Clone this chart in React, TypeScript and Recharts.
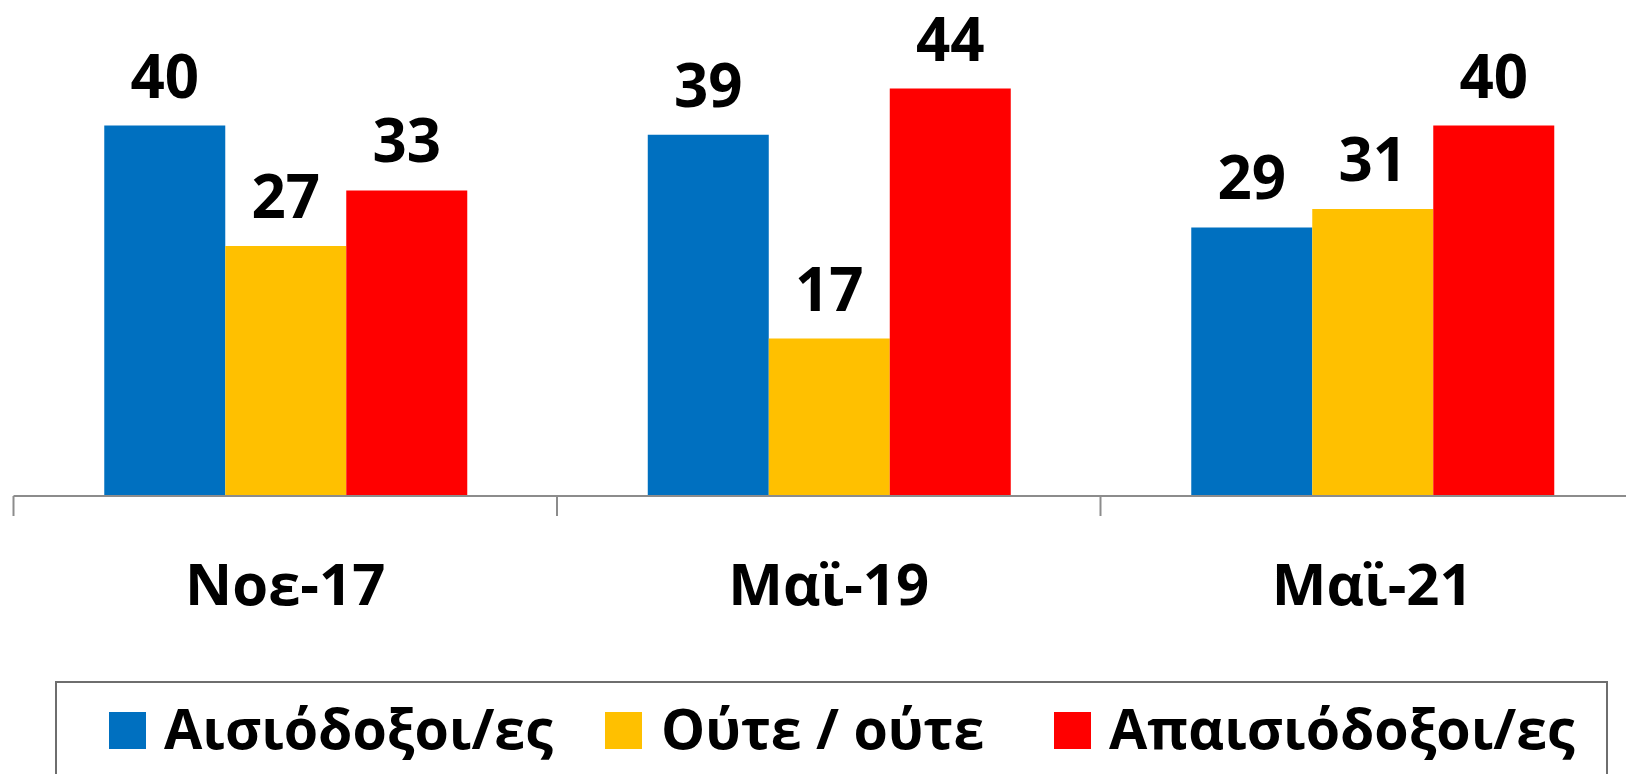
import React from 'react';
import { BarChart, Bar, XAxis, YAxis, LabelList, Legend } from 'recharts';

const categories = ['Νοε-17', 'Μαϊ-19', 'Μαϊ-21'];
const optimists = [40, 39, 29];
const neither = [27, 17, 31];
const pessimists = [33, 44, 40];
const seriesKeys = ['optimists', 'neither', 'pessimists'];
const seriesNames = ['Αισιόδοξοι/ες', 'Ούτε / ούτε', 'Απαισιόδοξοι/ες'];
const seriesColors = ['#0070C0', '#FFC000', '#FF0000'];

const data = categories.map((name, i) => ({
  name,
  optimists: optimists[i],
  neither: neither[i],
  pessimists: pessimists[i],
}));

const FONT = '"Open Sans", "Noto Sans", sans-serif';
const CHART_W = 1660;
const CHART_H = 774;
const MARGIN = { top: 33, right: 16, left: 13.5, bottom: 158 };
const PLOT_W = CHART_W - MARGIN.left - MARGIN.right;
const BAND = PLOT_W / categories.length;

const CategoryTick = (props: any) => {
  const { x, y, payload } = props;
  return (
    <g>
      <line x1={x - BAND / 2} y1={y} x2={x - BAND / 2} y2={y + 20} stroke="#8c8c8c" strokeWidth={2} />
      <text
        x={x}
        y={y + 109}
        textAnchor="middle"
        fontFamily={FONT}
        fontSize={58}
        fontWeight="bold"
        fill="#000"
      >
        {payload.value}
      </text>
    </g>
  );
};

const legendSquareX = [54, 550, 999];
const legendTextX = [109, 606, 1054];

const LegendContent = () => (
  <svg width={1560} height={100} style={{ display: 'block' }}>
    <rect x={1} y={1} width={1551} height={200} fill="#fff" stroke="#6e6e6e" strokeWidth={2} />
    {seriesNames.map((n, i) => (
      <g key={n}>
        <rect x={legendSquareX[i]} y={31} width={37} height={37} fill={seriesColors[i]} />
        <text
          x={legendTextX[i]}
          y={67.5}
          fontFamily={FONT}
          fontSize={55.5}
          fontWeight="bold"
          fill="#000"
        >
          {n}
        </text>
      </g>
    ))}
  </svg>
);

export default function App() {
  return (
    <div
      style={{
        position: 'absolute',
        left: 0,
        top: 0,
        width: 1626,
        height: 774,
        overflow: 'hidden',
        background: '#fff',
      }}
    >
      <BarChart
        width={CHART_W}
        height={CHART_H}
        data={data}
        margin={MARGIN}
        barCategoryGap="16.7%"
        barGap={0}
      >
        <XAxis
          dataKey="name"
          height={120}
          tickSize={0}
          tickMargin={0}
          tickLine={false}
          axisLine={{ stroke: '#8c8c8c', strokeWidth: 2 }}
          tick={<CategoryTick />}
          interval={0}
        />
        <YAxis hide domain={[0, 50]} />
        {seriesKeys.map((k, i) => (
          <Bar key={k} dataKey={k} name={seriesNames[i]} fill={seriesColors[i]} isAnimationActive={false}>
            <LabelList
              dataKey={k}
              position="top"
              offset={28}
              fill="#000"
              fontFamily={FONT}
              fontSize={60}
              fontWeight="bold"
            />
          </Bar>
        ))}
        <Legend
          verticalAlign="middle"
          align="center"
          layout="horizontal"
          content={<LegendContent />}
          wrapperStyle={{ position: 'absolute', left: 55, top: 681, width: 1560, height: 100, margin: 0, padding: 0 }}
        />
      </BarChart>
    </div>
  );
}
